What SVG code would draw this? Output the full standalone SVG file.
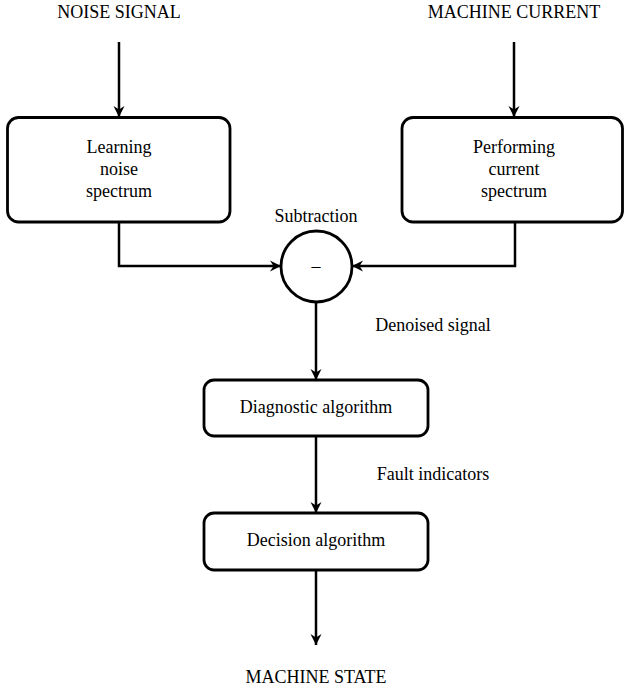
<svg xmlns="http://www.w3.org/2000/svg" width="624" height="690" viewBox="0 0 624 690">
<style>
text{font-family:"Liberation Serif","Times New Roman",serif;font-size:18px;fill:#000;text-anchor:middle}
.box{fill:#fff;stroke:#000;stroke-width:2.8}
.c{fill:none;stroke:#000;stroke-width:2.5}
</style>
<defs>
<marker id="ah" markerUnits="userSpaceOnUse" markerWidth="14" markerHeight="14" viewBox="-12 -6 14 12" refX="0" refY="0" orient="auto">
<path d="M0,0 L-11,-5.5 L-7.5,0 L-11,5.5 Z" fill="#000"/>
</marker>
</defs>
<g id="connectors">
<line class="c" x1="119" y1="42" x2="119" y2="117" marker-end="url(#ah)"/>
<line class="c" x1="514" y1="42" x2="514" y2="117" marker-end="url(#ah)"/>
<polyline class="c" points="119,222 119,266 281,266" marker-end="url(#ah)"/>
<polyline class="c" points="515,222 515,266 352,266" marker-end="url(#ah)"/>
<line class="c" x1="316" y1="302" x2="316" y2="380" marker-end="url(#ah)"/>
<line class="c" x1="316" y1="436" x2="316" y2="513" marker-end="url(#ah)"/>
<line class="c" x1="316" y1="570" x2="316" y2="645" marker-end="url(#ah)"/>
<text x="433" y="331">Denoised signal</text>
<text x="433" y="480">Fault indicators</text>
</g>
<g id="noise-signal"><text x="119" y="18">NOISE SIGNAL</text></g>
<g id="machine-current"><text x="514" y="18">MACHINE CURRENT</text></g>
<g id="learning">
<rect class="box" x="7.5" y="117.5" width="222.5" height="104.5" rx="11"/>
<text x="119" y="153">Learning</text>
<text x="119" y="175">noise</text>
<text x="119" y="197">spectrum</text>
</g>
<g id="performing">
<rect class="box" x="402" y="117.5" width="220.5" height="104.5" rx="11"/>
<text x="514" y="153">Performing</text>
<text x="514" y="175">current</text>
<text x="514" y="197">spectrum</text>
</g>
<g id="subtraction">
<circle class="box" cx="316.5" cy="266.5" r="35.5"/>
<text x="316" y="222">Subtraction</text>
<text x="316" y="272">–</text>
</g>
<g id="diagnostic">
<rect class="box" x="204" y="380" width="224" height="56" rx="10"/>
<text x="316" y="413">Diagnostic algorithm</text>
</g>
<g id="decision">
<rect class="box" x="204" y="513" width="224" height="57" rx="10"/>
<text x="316" y="546">Decision algorithm</text>
</g>
<g id="machine-state"><text x="316" y="683">MACHINE STATE</text></g>
</svg>
